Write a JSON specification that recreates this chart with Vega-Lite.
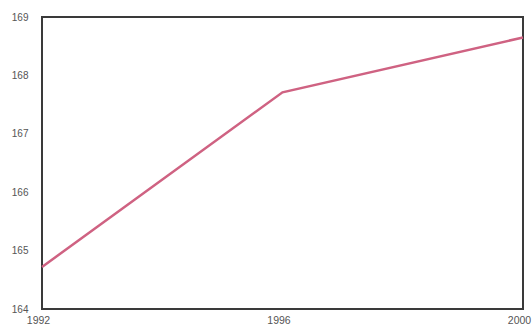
{
  "$schema": "https://vega.github.io/schema/vega-lite/v6.json",
  "width": 481,
  "height": 292,
  "autosize": {"type": "none"},
  "padding": {"left": 42, "top": 17, "right": 9, "bottom": 19},
  "background": "#ffffff",
  "config": {
    "view": {"stroke": "#3a3a3a", "strokeWidth": 2},
    "axis": {"labelFont": "Liberation Sans", "labelFontSize": 10, "labelColor": "#555555", "grid": false, "domain": false, "ticks": false, "title": null}
  },
  "data": {"values": [
    {"year": 1992, "value": 164.72},
    {"year": 1996, "value": 167.71},
    {"year": 2000, "value": 168.65}
  ]},
  "mark": {"type": "line", "color": "#cf6282", "strokeWidth": 2.5},
  "encoding": {
    "x": {"field": "year", "type": "quantitative", "scale": {"domain": [1992, 2000], "nice": false, "zero": false},
      "axis": {"values": [1992, 1996, 2000], "format": "d", "labelPadding": 6, "labelOffset": -4, "labelFontSize": 10.5, "labelFlush": false, "labelOverlap": false}},
    "y": {"field": "value", "type": "quantitative", "scale": {"domain": [164, 169], "nice": false, "zero": false},
      "axis": {"values": [164, 165, 166, 167, 168, 169], "labelPadding": 14, "labelFlush": false}}
  }
}
